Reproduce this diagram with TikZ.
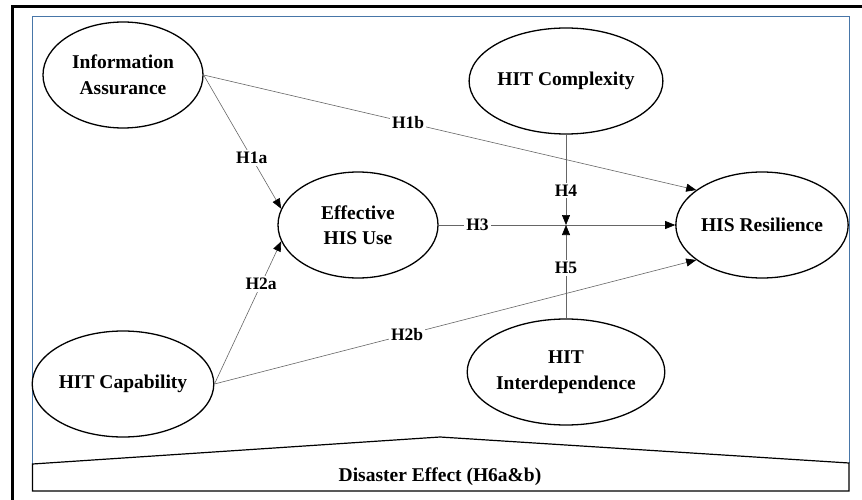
\documentclass[tikz,border=0pt]{standalone}
\usepackage{fontspec}
\setmainfont{Liberation Serif}
\usetikzlibrary{
    arrows.meta,
    shapes.geometric,
    positioning
}
\definecolor{frameblue}{RGB}{72,118,168}

\begin{document}
\begin{tikzpicture}[x=1pt, y=-1pt,
    construct/.style={draw, ellipse, line width=1.3pt, minimum width=160pt, minimum height=106pt,
        inner sep=0pt, align=center, font=\fontsize{19.5}{25.5}\selectfont\bfseries},
    link/.style={draw=black!60, line width=0.6pt},
    tip/.style={-{Triangle[length=10pt, width=8pt, color=black]}},
    hyp/.style={fill=white, inner sep=2pt, font=\fontsize{17.5}{19}\selectfont\bfseries}
]
    \useasboundingbox (0,0) rectangle (862,500);
    % frames
    \draw[line width=3pt] (12,500) -- (12,7) -- (862,7);
    \draw[frameblue, line width=0.9pt] (32.5,464) -- (32.5,16) -- (849,16) -- (849,463);
    % disaster effect base
    \draw[line width=1.2pt] (32.5,464) -- (440,437) -- (849,463) -- (849,491) -- (32.5,491) -- cycle;
    \node[font=\fontsize{19.5}{22}\selectfont\bfseries] (de) at (440,477) {Disaster Effect (H6a\&b)};

    % constructs
    \node[construct] (ia) at (123,75) {Information\\Assurance};
    \node[construct] (hitcap) at (123,384) {HIT Capability};
    \node[construct] (ehu) at (358,225) {Effective\\HIS Use};
    \node[construct] (hitc) at (566,81) {HIT Complexity};
    \node[construct] (hiti) at (566,372) {HIT\\Interdependence};
    \node[construct] (hisr) at (762,225) {HIS Resilience};
    \coordinate (j) at (566,225);

    % paths
    \draw[link, tip] (ia.east) -- node[hyp, pos=0.62] {H1a} (ehu.168);
    \draw[link, tip] (hitcap.east) -- node[hyp, pos=0.7] {H2a} (ehu.192);
    \draw[link, tip] (ia.east) -- node[hyp, pos=0.415] {H1b} (hisr.152);
    \draw[link, tip] (hitcap.east) -- node[hyp, pos=0.4] {H2b} (hisr.208);
    \draw[link, tip] (ehu.east) -- node[hyp, pos=0.164] {H3} (hisr.west);
    \draw[link, tip] (hitc.south) -- node[hyp, pos=0.62] {H4} (j);
    \draw[link, tip] (hiti.north) -- node[hyp, pos=0.54] {H5} (j);
\end{tikzpicture}
\end{document}
